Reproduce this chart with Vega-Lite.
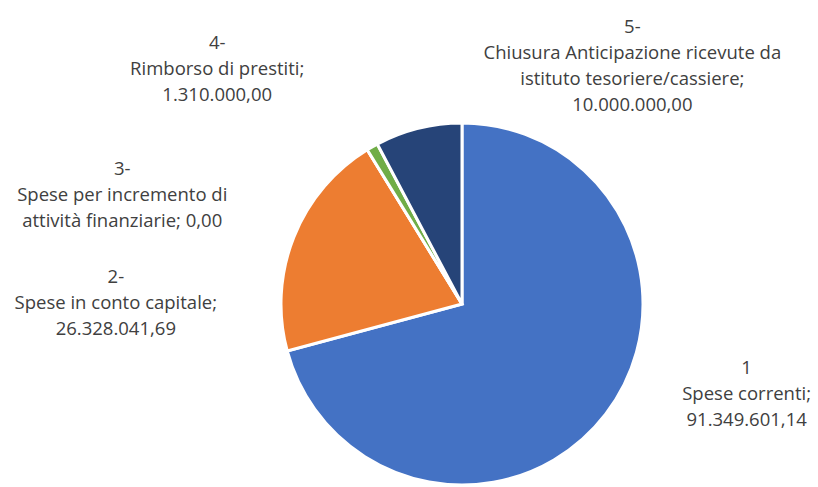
{
  "$schema": "https://vega.github.io/schema/vega-lite/v6.json",
  "width": 712,
  "height": 366,
  "autosize": {"type": "none"},
  "padding": {"left": 106, "top": 121, "right": 0, "bottom": 0},
  "background": "white",
  "config": {"view": {"stroke": null}},
  "data": {
    "values": [
      {"id": 1, "cat": "1 Spese correnti", "label": "1\nSpese correnti;\n91.349.601,14", "value": 91349601.14},
      {"id": 2, "cat": "2- Spese in conto capitale", "label": "2-\nSpese in conto capitale;\n26.328.041,69", "value": 26328041.69},
      {"id": 3, "cat": "3- Spese per incremento di attività finanziarie", "label": "3-\nSpese per incremento di\nattività finanziarie; 0,00", "value": 0},
      {"id": 4, "cat": "4- Rimborso di prestiti", "label": "4-\nRimborso di prestiti;\n1.310.000,00", "value": 1310000},
      {"id": 5, "cat": "5- Chiusura Anticipazione ricevute da istituto tesoriere/cassiere", "label": "5-\nChiusura Anticipazione ricevute da\nistituto tesoriere/cassiere;\n10.000.000,00", "value": 10000000}
    ]
  },
  "encoding": {
    "theta": {"field": "value", "type": "quantitative", "stack": true},
    "order": {"field": "id", "type": "quantitative", "sort": "ascending"}
  },
  "layer": [
    {
      "mark": {"type": "arc", "outerRadius": 181, "stroke": "white", "strokeWidth": 3},
      "encoding": {
        "color": {
          "field": "cat",
          "type": "nominal",
          "sort": null,
          "scale": {
            "domain": ["1 Spese correnti", "2- Spese in conto capitale", "3- Spese per incremento di attività finanziarie", "4- Rimborso di prestiti", "5- Chiusura Anticipazione ricevute da istituto tesoriere/cassiere"],
            "range": ["#4472C4", "#ED7D31", "#A5A5A5", "#70AD47", "#264478"]
          },
          "legend": null
        }
      }
    },
    {
      "mark": {"type": "text", "radius": 181, "dx": 141, "dy": -46, "align": "center", "baseline": "middle", "lineBreak": "\n", "font": "Open Sans", "fontSize": 18.5, "lineHeight": 26, "color": "#404040"},
      "encoding": {"detail": {"field": "cat"}, "text": {"condition": {"test": "datum.id == 1", "field": "label"}, "value": ""}}
    },
    {
      "mark": {"type": "text", "radius": 181, "dx": -178, "dy": 40, "align": "center", "baseline": "middle", "lineBreak": "\n", "font": "Open Sans", "fontSize": 18.5, "lineHeight": 26, "color": "#404040"},
      "encoding": {"detail": {"field": "cat"}, "text": {"condition": {"test": "datum.id == 2", "field": "label"}, "value": ""}}
    },
    {
      "mark": {"type": "text", "radius": 181, "dx": -245, "dy": 19, "align": "center", "baseline": "middle", "lineBreak": "\n", "font": "Open Sans", "fontSize": 18.5, "lineHeight": 26, "color": "#404040"},
      "encoding": {"detail": {"field": "cat"}, "text": {"condition": {"test": "datum.id == 3", "field": "label"}, "value": ""}}
    },
    {
      "mark": {"type": "text", "radius": 181, "dx": -155, "dy": -104, "align": "center", "baseline": "middle", "lineBreak": "\n", "font": "Open Sans", "fontSize": 18.5, "lineHeight": 26, "color": "#404040"},
      "encoding": {"detail": {"field": "cat"}, "text": {"condition": {"test": "datum.id == 4", "field": "label"}, "value": ""}}
    },
    {
      "mark": {"type": "text", "radius": 181, "dx": 214, "dy": -101, "align": "center", "baseline": "middle", "lineBreak": "\n", "font": "Open Sans", "fontSize": 18.5, "lineHeight": 26, "color": "#404040"},
      "encoding": {"detail": {"field": "cat"}, "text": {"condition": {"test": "datum.id == 5", "field": "label"}, "value": ""}}
    }
  ]
}
